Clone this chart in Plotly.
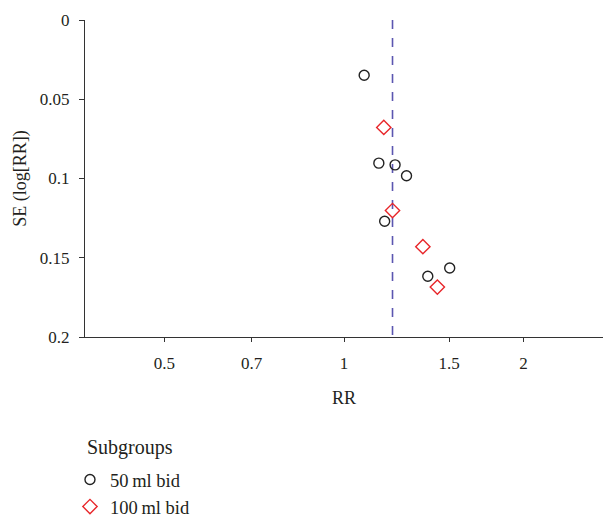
import plotly.graph_objects as go

# Data
rr_50 = [1.081, 1.144, 1.218, 1.273, 1.170, 1.504, 1.382]
se_50 = [0.0349, 0.0903, 0.0914, 0.0983, 0.127, 0.1565, 0.1617]
rr_100 = [1.166, 1.206, 1.356, 1.434]
se_100 = [0.0678, 0.1202, 0.143, 0.1685]
pooled_rr = 1.206
x_ticks = [0.5, 0.7, 1, 1.5, 2]
y_ticks = [0, 0.05, 0.1, 0.15, 0.2]
y_tick_text = ["0", "0.05", "0.1", "0.15", "0.2"]

font_fam = "Liberation Serif"
txt = "#231f20"

fig = go.Figure()
fig.add_trace(go.Scatter(x=[pooled_rr, pooled_rr], y=[0, 0.2], mode="lines",
                         line=dict(color="#5b56b0", width=1.6, dash="dash"),
                         showlegend=False, hoverinfo="skip"))
fig.add_trace(go.Scatter(x=rr_50, y=se_50, mode="markers", name="50\u2009ml bid",
                         marker=dict(symbol="circle-open", size=10, color="#222222",
                                     line=dict(width=1.4))))
fig.add_trace(go.Scatter(x=rr_100, y=se_100, mode="markers", name="100\u2009ml bid",
                         marker=dict(symbol="diamond-open", size=11, color="#e8262a",
                                     line=dict(width=1.4))))

fig.add_annotation(text="Subgroups", xref="paper", yref="paper", x=0, y=-0.35,
                   xanchor="left", yanchor="middle", showarrow=False,
                   font=dict(size=20, color=txt))

fig.update_layout(
    width=603, height=518,
    margin=dict(l=85, r=0, t=20, b=181, autoexpand=False),
    paper_bgcolor="white", plot_bgcolor="white",
    font=dict(family=font_fam, size=17, color=txt),
    xaxis=dict(type="log", range=[-0.4343, 0.4343], tickvals=x_ticks,
               ticktext=[str(v) for v in x_ticks],
               showgrid=False, zeroline=False, showline=True, linecolor="#333333",
               linewidth=1.2, ticks="outside", ticklen=4, tickcolor="#333333",
               ticklabelstandoff=6,
               title=dict(text="RR", standoff=19, font=dict(size=18))),
    yaxis=dict(range=[0.2, 0], tickvals=y_ticks, ticktext=y_tick_text,
               showgrid=False, zeroline=False, showline=True, linecolor="#333333",
               linewidth=1.2, ticks="outside", ticklen=5, tickcolor="#333333",
               ticklabelstandoff=6,
               title=dict(text="SE (log[RR])", standoff=8, font=dict(size=18))),
    legend=dict(x=-0.029, xanchor="left",
                y=-0.391, yanchor="top", orientation="v",
                font=dict(size=18.5), tracegroupgap=0, itemwidth=30),
)

fig.write_html("out.html")
